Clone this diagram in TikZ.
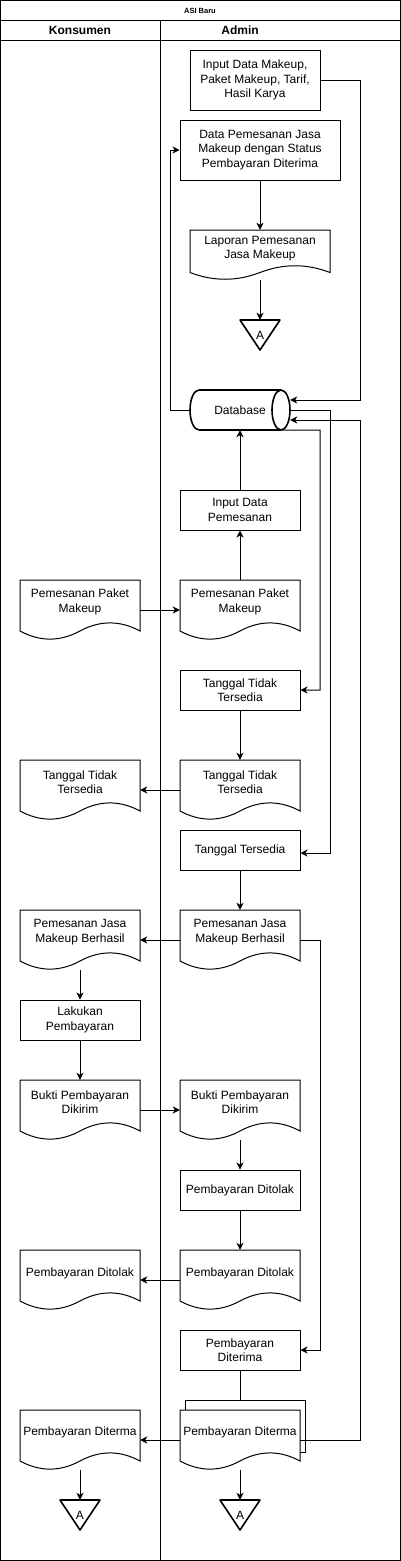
\documentclass[tikz,border=0pt]{standalone}
\usepackage{fontspec}
\setmainfont{Liberation Sans}
\usetikzlibrary{arrows.meta,calc}
\tikzset{
 shp/.style={line width=1pt, draw=black},
 box/.style={draw=black, line width=1pt, inner sep=0pt, align=center, font=\fontsize{12}{14.5}\selectfont},
 docbb/.style={draw=none, inner sep=0pt},
 txt/.style={inner sep=0pt, align=center, font=\fontsize{12}{14.5}\selectfont},
 arr/.style={line width=1pt, -{Stealth[length=7pt,width=7pt,inset=2pt]}},
 ln/.style={line width=1pt},
 heavy/.style={line width=1.6pt, line join=round},
}
\newcommand\docshape[7]{%
  \node[docbb, minimum width=#4pt, minimum height=#5pt] (#1) at ({#2+#4/2},{#3+#5/2}) {};
  \draw[shp] ({#2},{#3+0.85*#5}) -- (#2,#3) -- ({#2+#4},#3) -- ({#2+#4},{#3+0.85*#5})
     .. controls ({#2+0.8333*#4},{#3+0.67*#5}) and ({#2+0.6667*#4},{#3+0.67*#5}) .. ({#2+0.5*#4},{#3+0.85*#5})
     .. controls ({#2+0.3333*#4},{#3+1.03*#5}) and ({#2+0.1667*#4},{#3+1.03*#5}) .. ({#2},{#3+0.85*#5}) -- cycle;
  \node[txt] (#1-t) at ({#2+#4/2},{#3+#6}) {#7};
}
\newcommand\offpage[3]{%
  \node[docbb, minimum width=40pt, minimum height=30pt] (#1) at (#2,{#3+15}) {};
  \draw[heavy] ({#2-20},#3) -- ({#2+20},#3) -- (#2,{#3+30}) -- cycle;
  \node[txt] (#1-t) at (#2,{#3+15}) {A};
}
\begin{document}
\begin{tikzpicture}[x=1pt,y=-1pt]
\useasboundingbox (0,0) rectangle (401,1561);
% frame
\draw[ln] (0.5,0.5) rectangle (400.5,1560.5);
\draw[ln] (0,20.5) -- (401,20.5);
\draw[ln] (0,40.5) -- (401,40.5);
\draw[ln] (160.5,20.5) -- (160.5,1560.5);
\node[inner sep=0pt, font=\bfseries\fontsize{7.5}{9}\selectfont] (title) at (200,11) {ASI Baru};
\node[inner sep=0pt, font=\bfseries\fontsize{12}{14}\selectfont] (hk) at (80,30.5) {Konsumen};
\node[inner sep=0pt, font=\bfseries\fontsize{12}{14}\selectfont] (ha) at (240,30.5) {Admin};

% admin lane
\node[box, minimum width=130pt, minimum height=60pt] (imk) at (255,80) {Input Data Makeup,\\Paket Makeup, Tarif,\\Hasil Karya};
\node[box, minimum width=160pt, minimum height=60pt] (dpj) at (260,150) {Data Pemesanan Jasa\\Makeup dengan Status\\Pembayaran Diterima};
\docshape{lap}{190}{230}{140}{50}{18.5}{Laporan Pemesanan\\Jasa Makeup}
\offpage{offA1}{260}{320}

% database
\node[docbb, minimum width=100pt, minimum height=40pt, font=\fontsize{12}{14.5}\selectfont] (db) at (240,410) {Database};
\draw[heavy] (199,390) -- (281,390)
  (281,430) -- (199,430)
  (199,390) .. controls (194.03,390) and (190,398.95) .. (190,410)
            .. controls (190,421.05) and (194.03,430) .. (199,430)
  (281,390) .. controls (285.97,390) and (290,398.95) .. (290,410)
            .. controls (290,421.05) and (285.97,430) .. (281,430)
            .. controls (276.03,430) and (272,421.05) .. (272,410)
            .. controls (272,398.95) and (276.03,390) .. (281,390);

\node[box, minimum width=120pt, minimum height=40pt] (idp) at (240,510) {Input Data\\Pemesanan};
\docshape{ppA}{180}{580}{120}{60}{22}{Pemesanan Paket\\Makeup}
\node[box, minimum width=120pt, minimum height=40pt] (ttA) at (240,690) {Tanggal Tidak\\Tersedia};
\docshape{ttdA}{180}{760}{120}{60}{22}{Tanggal Tidak\\Tersedia}
\node[box, minimum width=120pt, minimum height=40pt] (tsA) at (240,850) {Tanggal Tersedia};
\docshape{pjA}{180}{910}{120}{60}{22}{Pemesanan Jasa\\Makeup Berhasil}
\docshape{bpA}{180}{1080}{120}{60}{22}{Bukti Pembayaran\\Dikirim}
\node[box, minimum width=120pt, minimum height=40pt] (pdt) at (240,1190) {Pembayaran Ditolak};
\docshape{pddA}{180}{1250}{120}{60}{23}{Pembayaran Ditolak}
\node[box, minimum width=120pt, minimum height=40pt] (pdr) at (240,1350) {Pembayaran\\Diterima};
% multi-document
\draw[shp] (185,1410) -- (185,1400) -- (305,1400) -- (305,1452) -- (300,1452);
\coordinate (pdmtop) at (240,1400);
\docshape{pdmA}{180}{1410}{120}{60}{22}{Pembayaran Diterma}
\offpage{offA3}{240}{1500}

% konsumen lane
\docshape{ppK}{20}{580}{120}{60}{22}{Pemesanan Paket\\Makeup}
\docshape{ttdK}{20}{760}{120}{60}{22}{Tanggal Tidak\\Tersedia}
\docshape{pjK}{20}{910}{120}{60}{22}{Pemesanan Jasa\\Makeup Berhasil}
\node[box, minimum width=120pt, minimum height=40pt] (lpK) at (80,1020) {Lakukan\\Pembayaran};
\docshape{bpK}{20}{1080}{120}{60}{22}{Bukti Pembayaran\\Dikirim}
\docshape{pddK}{20}{1250}{120}{60}{23}{Pembayaran Ditolak}
\docshape{pdmK}{20}{1410}{120}{60}{22}{Pembayaran Diterma}
\offpage{offA2}{80}{1500}

% connectors
\draw[arr] (imk.east) -- (360,80) |- ($(db.east)+(0,-10)$);
\draw[arr] (db.west) -- (170,410) |- (dpj.west);
\draw[arr] (dpj.south) -- (lap.north);
\draw[arr] (lap.south) -- (offA1.north);
\draw[arr] (idp.north) -- (db.south);
\draw[arr] (ppA.north) -- (idp.south);
\draw[arr] (ppK.east) -- (ppA.west);
\draw[arr] (db.east) -- (330,410) |- ($(tsA.east)+(0,3)$);
\draw[arr] ($(db.south east)+(-9,0)$) -- (320,430) |- (ttA.east);
\draw[arr] (ttA.south) -- (ttdA.north);
\draw[arr] (ttdA.west) -- (ttdK.east);
\draw[arr] (tsA.south) -- (pjA.north);
\draw[arr] (pjA.west) -- (pjK.east);
\draw[arr] (pjA.east) -- (320,940) |- (pdr.east);
\draw[arr] (pjK.south) -- (lpK.north);
\draw[arr] (lpK.south) -- (bpK.north);
\draw[arr] (bpK.east) -- (bpA.west);
\draw[arr] (bpA.south) -- (pdt.north);
\draw[arr] (pdt.south) -- (pddA.north);
\draw[arr] (pddA.west) -- (pddK.east);
\draw[ln] (pdr.south) -- (pdmtop);
\draw[arr] (pdmA.west) -- (pdmK.east);
\draw[arr] (pdmA.east) -- (360,1440) |- ($(db.east)+(0,10)$);
\draw[arr] (pdmK.south) -- (offA2.north);
\draw[arr] (pdmA.south) -- (offA3.north);
\end{tikzpicture}
\end{document}
